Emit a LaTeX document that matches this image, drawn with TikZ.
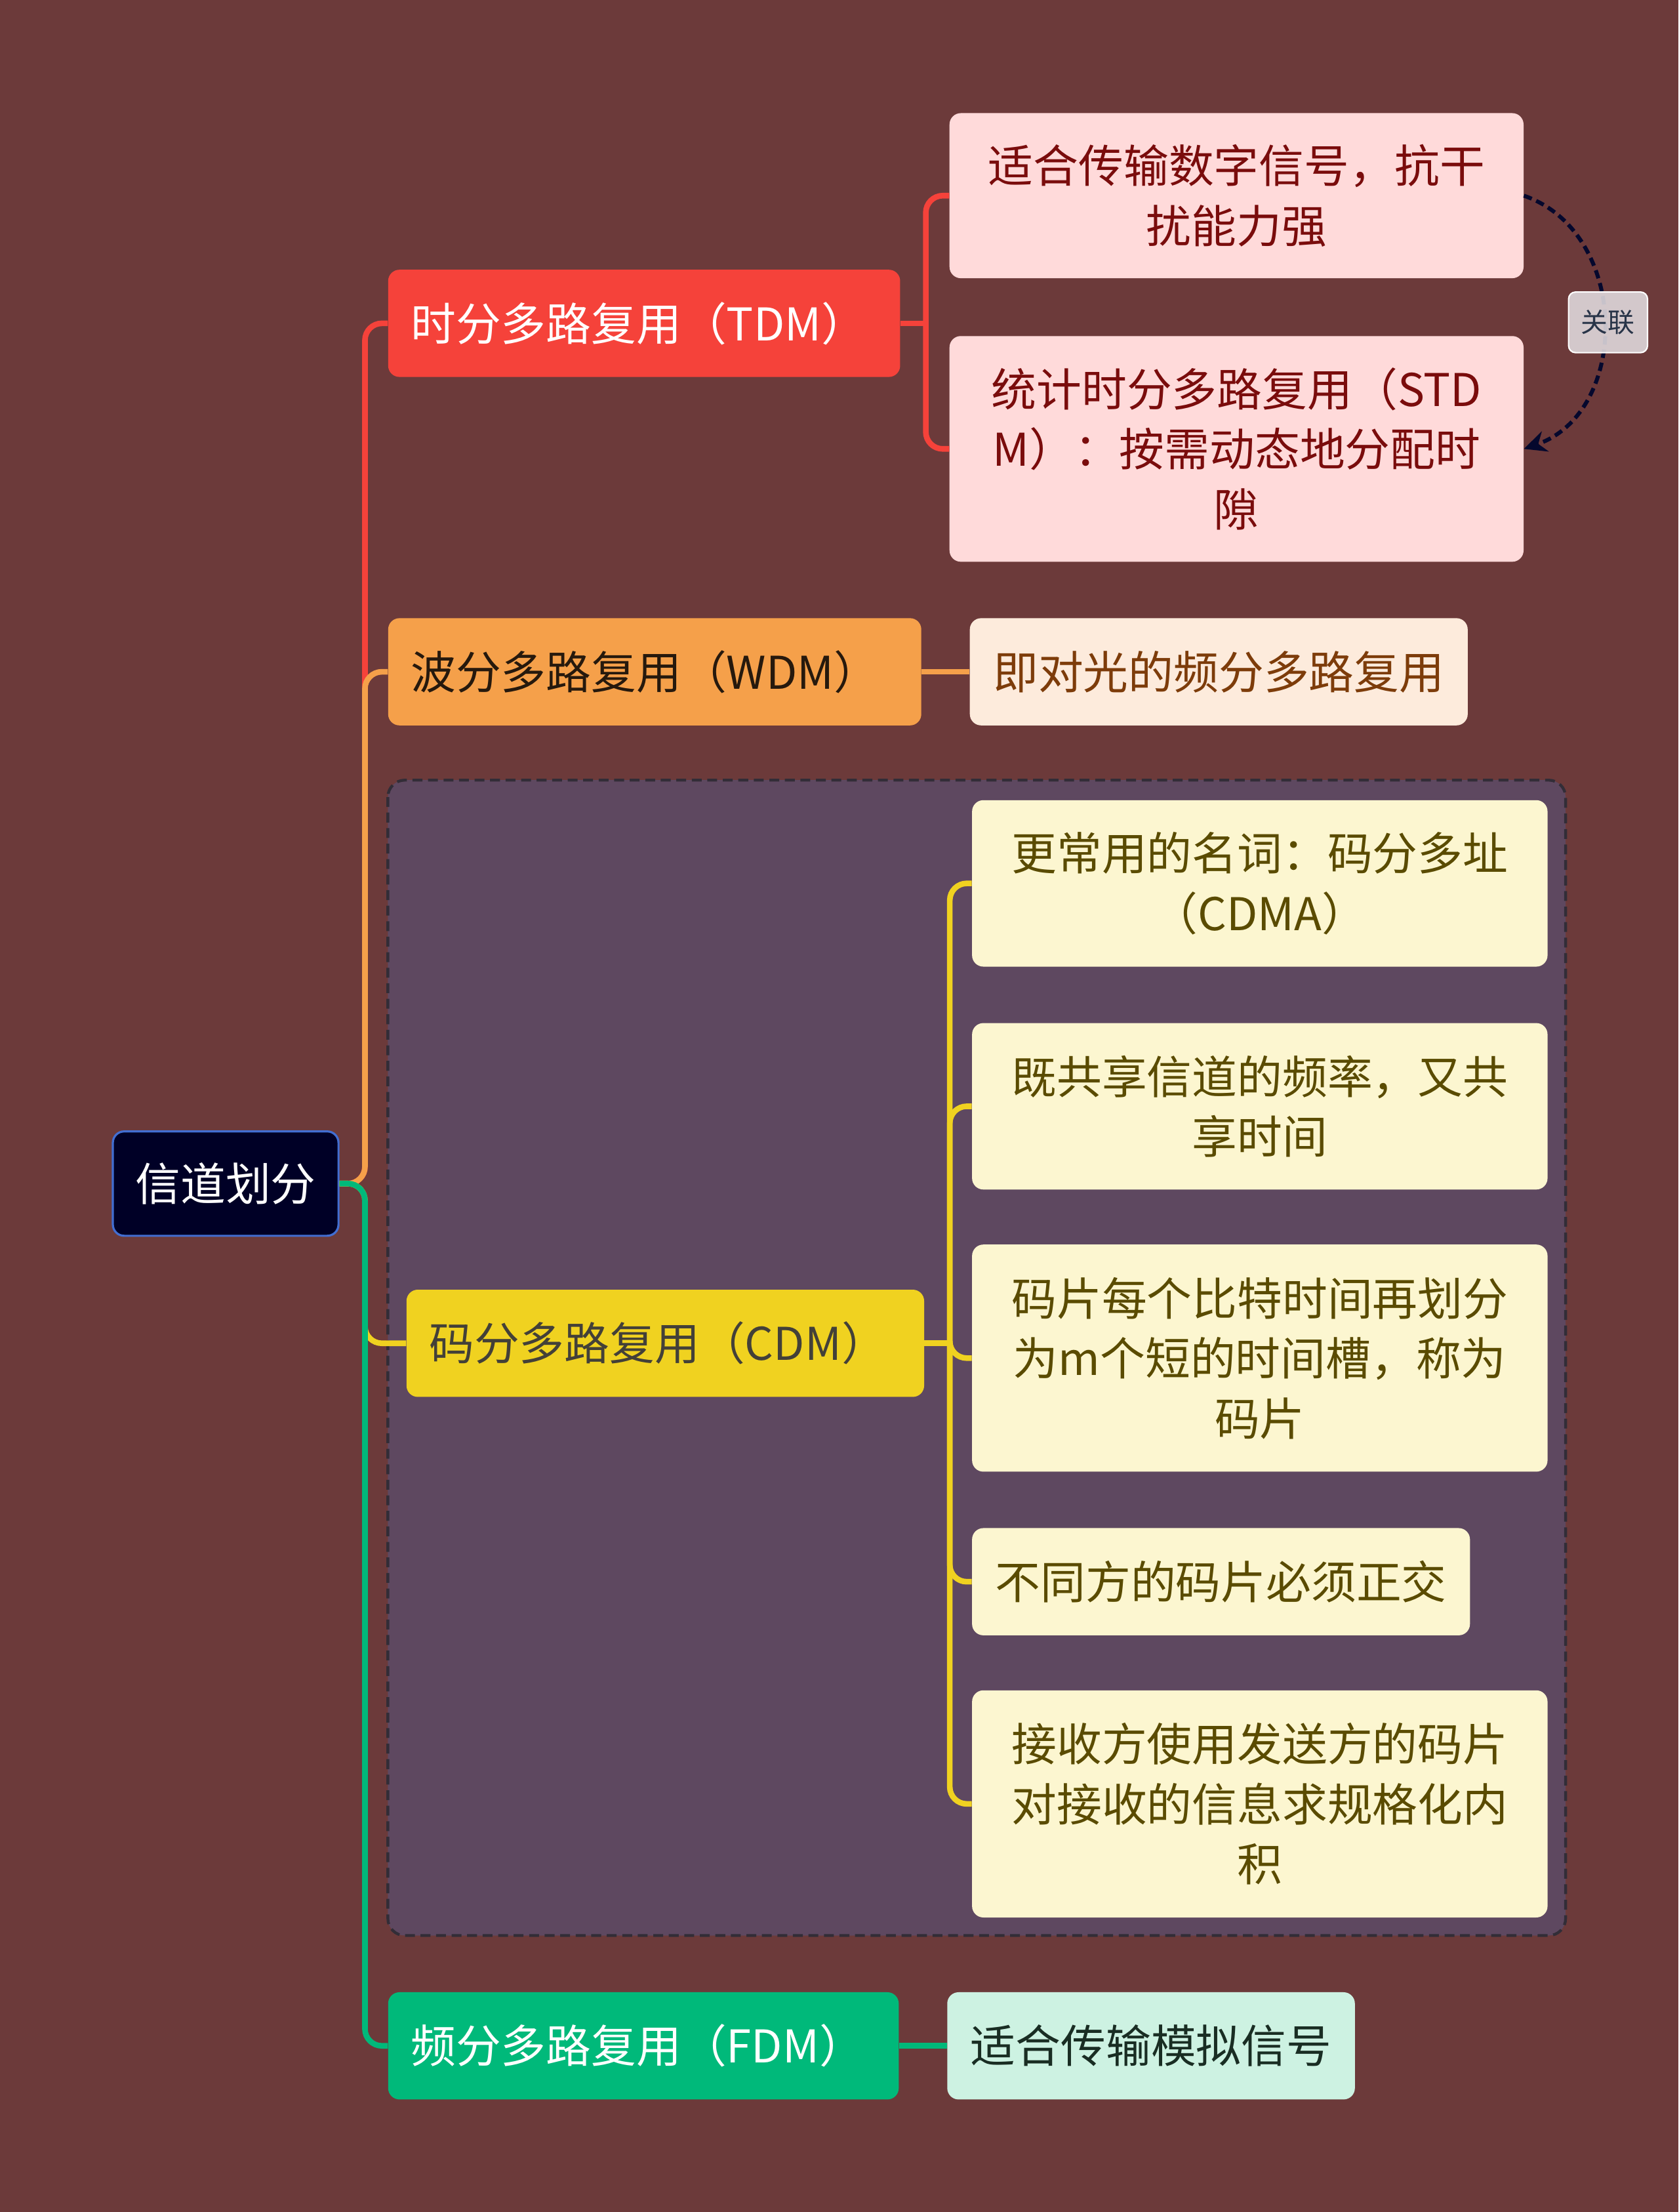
\documentclass[tikz,border=0pt]{standalone}
\usepackage{fontspec}
\setmainfont{Noto Sans CJK SC}
\usepackage{tikz}
\usetikzlibrary{arrows.meta,positioning,backgrounds}
\definecolor{bgbrown}{RGB}{108,58,58}
\definecolor{rootnavy}{RGB}{0,0,38}
\definecolor{rootblue}{RGB}{66,110,210}
\definecolor{tdmred}{RGB}{245,66,58}
\definecolor{tdmpink}{RGB}{255,218,218}
\definecolor{tdmtext}{RGB}{122,12,12}
\definecolor{wdmorange}{RGB}{245,160,74}
\definecolor{wdmpeach}{RGB}{253,235,220}
\definecolor{wdmtext}{RGB}{125,60,10}
\definecolor{cdmyellow}{RGB}{240,210,32}
\definecolor{cdmcream}{RGB}{252,246,208}
\definecolor{cdmtext}{RGB}{90,75,0}
\definecolor{fdmgreen}{RGB}{0,185,122}
\definecolor{fdmmint}{RGB}{205,242,226}
\definecolor{fdmtext}{RGB}{25,45,35}
\definecolor{grouppurple}{RGB}{94,72,96}
\definecolor{groupline}{RGB}{50,45,55}
\definecolor{relnavy}{RGB}{5,8,45}
\definecolor{relgray}{RGB}{226,220,224}
\definecolor{reltext}{RGB}{40,52,72}

\tikzset{
  every node/.style={font=\fontsize{32}{42.5}\selectfont},
  rootbox/.style={draw=rootblue, line width=1.5pt, fill=rootnavy, text=white, rounded corners=8pt, minimum width=160pt, minimum height=74pt},
  mainbox/.style={anchor=north west, rounded corners=8pt, minimum height=76pt, inner xsep=16pt, text width=#1, align=left},
  leafbox/.style={anchor=north west, rounded corners=8pt, align=center, inner xsep=16.5pt, inner ysep=21pt},
  tdmleaf/.style={leafbox, fill=tdmpink, text=tdmtext, minimum width=407pt},
  cdmleaf/.style={leafbox, fill=cdmcream, text=cdmtext, minimum width=408pt},
  branch/.style={line width=4pt, rounded corners=12pt},
  relarrow/.style={draw=relnavy, line width=2.8pt, dash pattern=on 6pt off 3.5pt, -{Stealth[length=16pt, width=15pt]}},
  rellabel/.style={draw=white, fill=relgray, fill opacity=0.88, text opacity=1, text=reltext, rounded corners=5pt, line width=1pt, font=\fontsize{19}{22}\selectfont, minimum width=56pt, minimum height=43pt, inner sep=2pt}
}

\begin{document}
\begin{tikzpicture}[x=1pt, y=-1pt]
    \useasboundingbox[fill=bgbrown] (0,0) rectangle (1190,1568);

    % CDM group frame
    \draw[fill=grouppurple, draw=groupline, line width=2pt, dash pattern=on 7pt off 4pt, rounded corners=12pt] (275,553) rectangle (1110,1372);

    \node[rootbox] (root) at (160,839) {信道划分};

    \node[mainbox=331pt, fill=tdmred, text=white] (tdm) at (275,191) {时分多路复用（TDM）};
    \node[tdmleaf, minimum height=117pt] (tdmA) at (673,80) {适合传输数字信号，抗干\\扰能力强};
    \node[tdmleaf, minimum height=160pt] (tdmB) at (673,238) {统计时分多路复用（STD\\M）：按需动态地分配时\\隙};

    \node[mainbox=346pt, fill=wdmorange, text=black!80!brown] (wdm) at (275,438) {波分多路复用（WDM）};
    \node[leafbox, anchor=west, fill=wdmpeach, text=wdmtext, minimum height=76pt, right=34pt of wdm] (wdmA) {即对光的频分多路复用};

    \node[mainbox=335pt, fill=cdmyellow, text=black!85!yellow] (cdm) at (288,914) {码分多路复用（CDM）};
    \node[cdmleaf, minimum height=118pt] (cdmA) at (689,567) {更常用的名词：码分多址\\（CDMA）};
    \node[cdmleaf, minimum height=118pt] (cdmB) at (689,725) {既共享信道的频率，又共\\享时间};
    \node[cdmleaf, minimum height=161pt] (cdmC) at (689,882) {码片每个比特时间再划分\\为m个短的时间槽，称为\\码片};
    \node[leafbox, fill=cdmcream, text=cdmtext, minimum height=76pt] (cdmD) at (689,1083) {不同方的码片必须正交};
    \node[cdmleaf, minimum height=161pt] (cdmE) at (689,1198) {接收方使用发送方的码片\\对接收的信息求规格化内\\积};

    \node[mainbox=330pt, fill=fdmgreen, text=white] (fdm) at (275,1412) {频分多路复用（FDM）};
    \node[leafbox, anchor=west, fill=fdmmint, text=fdmtext, minimum height=76pt, right=34pt of fdm] (fdmA) {适合传输模拟信号};

    % root branches
    \coordinate (rootJ) at ([xshift=18pt]root.east);
    \draw[branch, tdmred] (root.east) -- (rootJ) |- (tdm.west);
    \draw[branch, wdmorange] (root.east) -- (rootJ) |- (wdm.west);
    \draw[branch, cdmyellow] (root.east) -- (rootJ) |- (cdm.west);
    \draw[branch, fdmgreen] (root.east) -- (rootJ) |- (fdm.west);

    % leaves
    \coordinate (tdmJ) at ([xshift=18pt]tdm.east);
    \draw[branch, tdmred] (tdm.east) -- (tdmJ);
    \foreach \kid in {tdmA,tdmB}
        \draw[branch, tdmred] (tdmJ) |- (\kid.west);
    \draw[branch, wdmorange] (wdm.east) -- (wdmA.west);
    \coordinate (cdmJ) at ([xshift=18pt]cdm.east);
    \draw[branch, cdmyellow] (cdm.east) -- (cdmJ);
    \foreach \kid in {cdmA,cdmB,cdmC,cdmD,cdmE}
        \draw[branch, cdmyellow] (cdmJ) |- (\kid.west);
    \draw[branch, fdmgreen] (fdm.east) -- (fdmA.west);

    % relation
    \draw[relarrow] (tdmA.east) .. controls (1156,165) and (1156,292) .. (tdmB.east)
        node[pos=0.5, xshift=3pt, rellabel, solid] (rel) {关联};
\end{tikzpicture}
\end{document}
